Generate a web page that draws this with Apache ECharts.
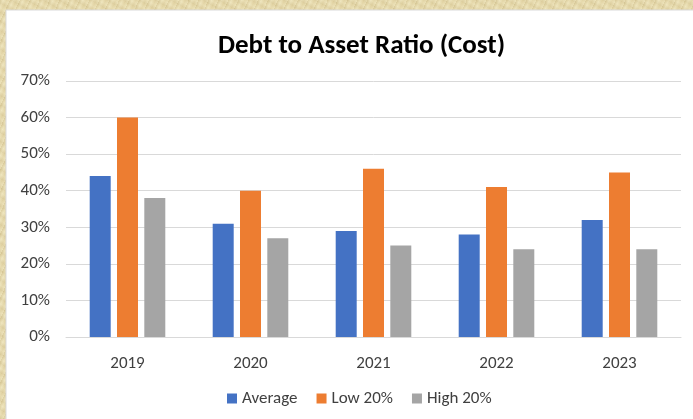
<!DOCTYPE html>
<html>
<head>
<meta charset="utf-8">
<script src="https://cdn.jsdelivr.net/npm/echarts@6/dist/echarts.min.js"></script>
<style>
html,body{margin:0;padding:0;}
#wrap{width:693px;height:419px;position:relative;
background:#eadfb4;
background-image:
 repeating-linear-gradient(115deg, rgba(160,130,60,0.18) 0px, rgba(255,250,220,0.15) 3px, rgba(190,160,90,0.12) 6px, rgba(240,230,190,0.2) 9px),
 repeating-linear-gradient(30deg, rgba(140,110,50,0.12) 0px, rgba(255,255,235,0.1) 4px, rgba(170,140,70,0.1) 8px);
}
#chart{width:693px;height:419px;position:absolute;left:0;top:0;}
</style>
</head>
<body>
<div id="wrap"><div id="chart"></div></div>
<script>
const categories = ['2019','2020','2021','2022','2023'];
const averageValues = [44, 31, 29, 28, 32];
const low20Values = [60, 40, 46, 41, 45];
const high20Values = [38, 27, 25, 24, 24];
const yTicks = [0, 10, 20, 30, 40, 50, 60, 70];

const FONT = 'Carlito, "Noto Sans", "Liberation Sans", sans-serif';
const chart = echarts.init(document.getElementById('chart'), null, {renderer:'canvas'});
chart.setOption({
  backgroundColor: 'transparent',
  animation: false,
  graphic: [{
    type: 'rect', z: -10, silent: true,
    shape: {x: 6, y: 10, width: 700, height: 420},
    style: {fill: '#ffffff', stroke: '#d9d9d9', lineWidth: 1}
  }],
  title: {
    text: 'Debt to Asset Ratio (Cost)',
    left: 213, top: 28,
    textStyle: {fontFamily: FONT, fontSize: 27, fontWeight: 'bold', color: '#000'}
  },
  legend: {
    bottom: 7, left: 222,
    itemWidth: 10, itemHeight: 10, itemGap: 19,
    icon: 'rect',
    textStyle: {fontFamily: FONT, fontSize: 17, color: '#404040'},
    data: ['Average', 'Low 20%', 'High 20%']
  },
  grid: {left: 66, right: 12, top: 81, bottom: 82},
  xAxis: {
    type: 'category', data: categories,
    axisLine: {lineStyle: {color: '#d9d9d9', width: 1}},
    axisTick: {show: false},
    axisLabel: {fontFamily: FONT, fontSize: 17, color: '#404040', margin: 18}
  },
  yAxis: {
    type: 'value', min: yTicks[0], max: yTicks[yTicks.length-1], interval: 10,
    axisLine: {show: false}, axisTick: {show: false},
    splitLine: {lineStyle: {color: '#d9d9d9', width: 1}},
    axisLabel: {fontFamily: FONT, fontSize: 17, color: '#404040', margin: 16, formatter: v => v + '%'}
  },
  series: [
    {name: 'Average', type: 'bar', data: averageValues, barWidth: 21, barGap: '30%', itemStyle: {color: '#4472c4'}},
    {name: 'Low 20%', type: 'bar', data: low20Values, barWidth: 21, barGap: '30%', itemStyle: {color: '#ed7d31'}},
    {name: 'High 20%', type: 'bar', data: high20Values, barWidth: 21, barGap: '30%', itemStyle: {color: '#a5a5a5'}}
  ]
});
</script>
</body>
</html>
